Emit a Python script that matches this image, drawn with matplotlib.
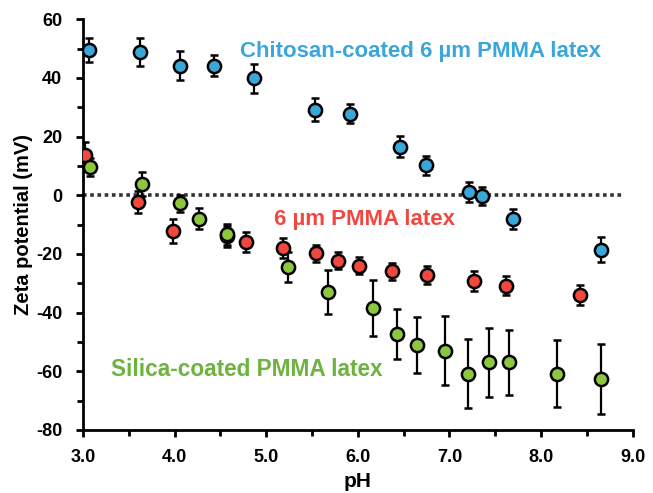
import numpy as np
import matplotlib.pyplot as plt
from matplotlib.ticker import MultipleLocator

plt.rcParams['font.family'] = ['Liberation Sans', 'DejaVu Sans']
plt.rcParams['font.weight'] = 'bold'
plt.rcParams['axes.labelweight'] = 'bold'

# --- data ---
ph_chit = [3.07, 3.62, 4.06, 4.43, 4.87, 5.53, 5.91, 6.46, 6.74, 7.21, 7.35, 7.69, 8.65]
zeta_chit = [49.5, 48.8, 44.2, 44.2, 39.8, 29.2, 27.8, 16.6, 10.2, 1.0, -0.3, -8.0, -18.6]
err_chit = [4.0, 4.8, 5.0, 3.6, 4.8, 3.8, 3.3, 3.6, 3.2, 3.4, 3.0, 3.4, 4.3]

ph_pmma = [3.02, 3.60, 3.98, 4.57, 4.78, 5.18, 5.54, 5.78, 6.01, 6.37, 6.76, 7.27, 7.62, 8.42]
zeta_pmma = [13.8, -2.2, -12.2, -14.0, -15.8, -18.0, -19.8, -22.3, -24.0, -26.0, -27.2, -29.3, -30.8, -34.0]
err_pmma = [4.5, 3.8, 4.0, 3.5, 3.4, 3.3, 3.0, 3.0, 2.8, 3.0, 3.0, 3.4, 3.3, 3.4]

ph_sil = [3.08, 3.65, 4.06, 4.27, 4.57, 5.24, 5.67, 6.17, 6.43, 6.65, 6.95, 7.20, 7.43, 7.65, 8.17, 8.65]
zeta_sil = [9.6, 3.8, -2.8, -8.0, -13.3, -24.4, -33.0, -38.4, -47.4, -51.0, -53.0, -60.8, -57.0, -57.0, -60.8, -62.6]
err_sil = [3.0, 4.0, 3.0, 3.5, 3.5, 5.2, 7.4, 9.5, 8.5, 9.5, 11.8, 11.9, 11.7, 11.2, 11.3, 12.0]

x_ticks = [3.0, 4.0, 5.0, 6.0, 7.0, 8.0, 9.0]
y_ticks = [-80, -60, -40, -20, 0, 20, 40, 60]

blue = '#3AA6DA'
red = '#F2473F'
green = '#8DC63F'

fig = plt.figure(figsize=(6.53, 4.93), dpi=100)
ax = fig.add_axes([0.127, 0.128, 0.842, 0.833])

ax.plot([3.0, 8.9], [0, 0], ls=(0, (1, 1)), lw=2.6, color='#333333', zorder=1)

style = dict(fmt='o', ms=9.5, mec='black', mew=1.8, ecolor='black',
             elinewidth=1.6, capsize=3.2, capthick=1.6, zorder=3)
ax.errorbar(ph_chit, zeta_chit, yerr=err_chit, mfc=blue, **style)
ax.errorbar(ph_pmma, zeta_pmma, yerr=err_pmma, mfc=red, **style)
ax.errorbar(ph_sil, zeta_sil, yerr=err_sil, mfc=green, **style)

ax.text(6.68, 49, 'Chitosan-coated 6 \u00b5m PMMA latex', color=blue,
        fontsize=16, ha='center', va='center')
ax.text(6.07, -8.2, '6 \u00b5m PMMA latex', color=red,
        fontsize=16, ha='center', va='center')
ax.text(3.31, -59.3, 'Silica-coated PMMA latex', color='#6DB33F',
        fontsize=16.3, ha='left', va='center')

ax.set_xlim(3.0, 9.0)
ax.set_ylim(-80, 60)
ax.set_xticks(x_ticks)
ax.set_xticklabels([f'{v:.1f}' for v in x_ticks], fontweight='bold')
ax.set_yticks(y_ticks)
ax.set_yticklabels([str(v) for v in y_ticks], fontweight='bold')
ax.xaxis.set_minor_locator(MultipleLocator(0.5))
ax.yaxis.set_minor_locator(MultipleLocator(10))

for s in ['top', 'right']:
    ax.spines[s].set_visible(False)
for s in ['left', 'bottom']:
    ax.spines[s].set_linewidth(2.0)
ax.tick_params(which='major', direction='out', length=5, width=2.0, labelsize=13)
ax.tick_params(which='minor', direction='out', length=4, width=2.0)
ax.tick_params(axis='x', which='major', pad=9)
ax.tick_params(axis='y', which='major', pad=10)

ax.set_xlabel('pH', fontsize=15, labelpad=4)
ax.set_ylabel('Zeta potential (mV)', fontsize=14.5, labelpad=2)

fig.savefig('out.png', dpi=100)
